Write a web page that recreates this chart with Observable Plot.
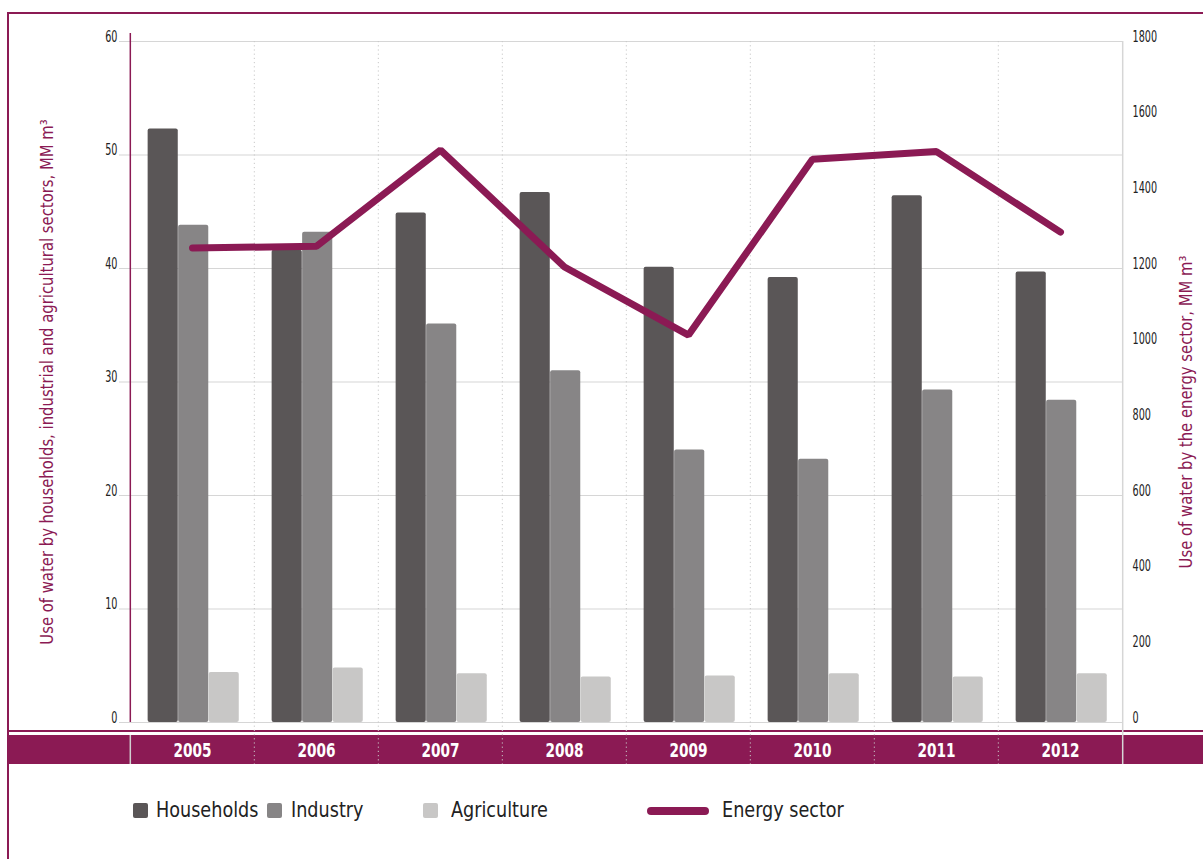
<!DOCTYPE html>
<html>
<head>
<meta charset="utf-8">
<script src="https://cdn.jsdelivr.net/npm/d3@7"></script>
<script src="https://cdn.jsdelivr.net/npm/@observablehq/plot@0.6"></script>
<style>
  body { margin: 0; background: #fff; }
  #root { position: relative; width: 1203px; height: 859px; overflow: hidden; background: #fff;
          font-family: "DejaVu Sans Condensed", "Liberation Sans Narrow", Roboto, sans-serif; }
  .abs { position: absolute; }
  #chart { position: absolute; left: 0; top: 0; z-index: 2; }
  .title { position: absolute; color: #8b1a54; font-size: 17px; white-space: nowrap;
           transform: translate(-50%, -50%) rotate(-90deg) scaleX(0.97); }
  .leg { position: absolute; font-size: 22px; color: #222; white-space: nowrap; line-height: 1;
         transform-origin: left center; transform: scaleX(0.89); }
  .sw { position: absolute; width: 15px; height: 15px; border-radius: 2px; }
</style>
</head>
<body>
<div id="root">
  <div class="abs" style="left:7px;top:12px;width:2px;height:847px;background:#8b1a54"></div>
  <div class="abs" style="left:7px;top:12px;width:1196px;height:2px;background:#8b1a54"></div>
  <div class="abs" style="left:9px;top:730px;width:1194px;height:2px;background:#8b1a54"></div>
  <div class="abs" style="left:9px;top:735px;width:1194px;height:29px;background:#8b1a54"></div>
  <div id="chart"></div>
  <div class="title" id="tl" style="left:47px;top:382px">Use of water by households, industrial and agricultural sectors, MM m³</div>
  <div class="title" id="tr" style="left:1186px;top:412px">Use of water by the energy sector, MM m³</div>
  <div id="legend"></div>
</div>
<script>
const years = ["2005", "2006", "2007", "2008", "2009", "2010", "2011", "2012"];
const households = [52.3, 41.6, 44.9, 46.7, 40.1, 39.2, 46.4, 39.7];
const industry = [43.8, 43.2, 35.1, 31.0, 24.0, 23.2, 29.3, 28.4];
const agriculture = [4.4, 4.8, 4.3, 4.0, 4.1, 4.3, 4.0, 4.3];
const energy = [1254, 1259, 1513, 1204, 1024, 1489, 1509, 1296];
const leftTicks = [0, 10, 20, 30, 40, 50, 60];
const rightTicks = [0, 200, 400, 600, 800, 1000, 1200, 1400, 1600, 1800];
const seriesNames = ["Households", "Industry", "Agriculture"];
const seriesColors = ["#5a5657", "#878586", "#c8c7c6"];
const energyName = "Energy sector";
const purple = "#8b1a54";

const W = 1203, H = 780, ML = 128, MR = 80, MT = 41, MB = 58;
const bw = (W - ML - MR) / years.length;
const barW = 30.5;
const inset = (bw - barW) / 2;
const offsets = [-29.3, 1.2, 31.7];
const ratio = 1800 / 60;

const seriesData = [households, industry, agriculture].map(arr =>
  years.map((y, i) => ({year: y, value: arr[i]})));
const energyData = years.map((y, i) => ({year: y, value: energy[i] / ratio}));

const font = '"DejaVu Sans Condensed", "Liberation Sans Narrow", Roboto, sans-serif';

const chart = Plot.plot({
  width: W, height: H,
  marginTop: MT, marginBottom: MB, marginLeft: ML, marginRight: MR,
  style: {background: "transparent", fontFamily: font, overflow: "visible"},
  x: {domain: years, padding: 0, axis: null},
  y: {domain: [0, 60], axis: null},
  marks: [
    Plot.ruleY(leftTicks, {stroke: "#d6d6d6", strokeWidth: 1.2, insetLeft: -9}),
    Plot.ruleX(years.slice(1), {x: d => d, dx: -bw / 2, stroke: "#c8c8c8", strokeDasharray: "1.2,3", insetBottom: -42}),
    Plot.ruleX([years[0]], {x: d => d, dx: -bw / 2, stroke: purple, strokeWidth: 1.5, insetTop: -8}),
    Plot.ruleX([years[0]], {x: d => d, dx: -bw / 2, stroke: "#d0d0d0", strokeWidth: 1.5, insetTop: 694, insetBottom: -42}),
    Plot.ruleX([years[years.length - 1]], {x: d => d, dx: bw / 2, stroke: "#d6d6d6", strokeWidth: 1.5, insetBottom: -42}),
    ...seriesData.map((data, k) => Plot.barY(data, {
      x: "year", y: "value", fill: seriesColors[k],
      insetLeft: inset, insetRight: inset, dx: offsets[k], rx: 2
    })),
    Plot.line(energyData, {x: "year", y: "value", stroke: purple, strokeWidth: 7,
      strokeLinecap: "round", strokeLinejoin: "miter"}),
    Plot.axisY({ticks: leftTicks, anchor: "left", tickSize: 0, tickPadding: 11, dy: -5,
      fontSize: 16.5, fill: "#222", label: null}),
    Plot.axisY({ticks: rightTicks.map(d => d / ratio), tickFormat: d => String(Math.round(d * ratio)),
      anchor: "right", tickSize: 0, tickPadding: 9, dy: -5, fontSize: 16.5, fill: "#222", label: null}),
    Plot.text(years, {x: d => d, frameAnchor: "bottom", lineAnchor: "middle", dy: 28, fill: "#fff",
      fontWeight: "bold", fontSize: 20})
  ]
});
document.getElementById("chart").appendChild(chart);

// condense the SVG labels horizontally around their anchor point
chart.querySelectorAll("text").forEach(t => {
  const bb = t.getBBox();
  const anchor = getComputedStyle(t).textAnchor;
  const ax = anchor === "end" ? bb.x + bb.width : anchor === "middle" ? bb.x + bb.width / 2 : bb.x;
  const s = t.getAttribute("font-weight") === "bold" || getComputedStyle(t).fontWeight >= 600 ? 0.76 : 0.65;
  const tr = t.getAttribute("transform") || "";
  t.setAttribute("transform", `${tr} translate(${ax},0) scale(${s},1) translate(${-ax},0)`);
});

// legend
const legend = document.getElementById("legend");
const swX = [133, 267, 423];
const txX = [156, 291, 451];
seriesNames.forEach((name, k) => {
  const s = document.createElement("div");
  s.className = "sw";
  s.style.left = swX[k] + "px"; s.style.top = "803px"; s.style.background = seriesColors[k];
  legend.appendChild(s);
  const t = document.createElement("div");
  t.className = "leg";
  t.style.left = txX[k] + "px"; t.style.top = "799px";
  t.textContent = name;
  legend.appendChild(t);
});
const ln = document.createElement("div");
ln.className = "abs";
ln.style.cssText = `left:647px;top:807px;width:62px;height:8px;border-radius:4px;background:${purple}`;
legend.appendChild(ln);
const lt = document.createElement("div");
lt.className = "leg";
lt.style.left = "722px"; lt.style.top = "799px";
lt.textContent = energyName;
legend.appendChild(lt);
</script>
</body>
</html>
